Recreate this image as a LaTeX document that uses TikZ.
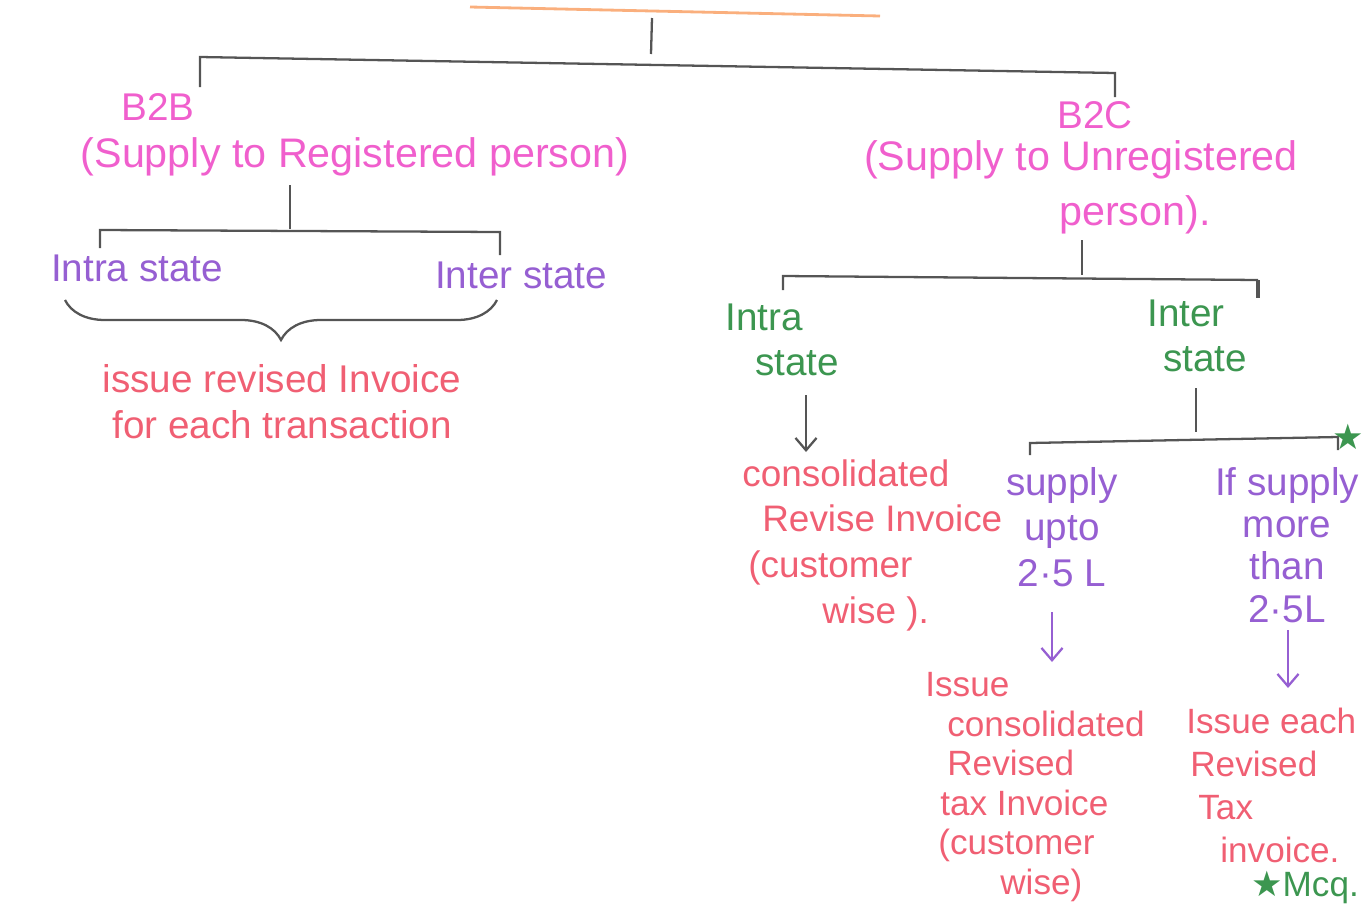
\documentclass[tikz,border=0pt]{standalone}
\usepackage{fontspec}
\setmainfont{Liberation Sans}
\newfontfamily\symfont{DejaVu Sans}
\usetikzlibrary{arrows.meta,decorations.pathreplacing}

\definecolor{penpink}{RGB}{240,95,205}
\definecolor{penpurple}{RGB}{150,95,210}
\definecolor{pengreen}{RGB}{60,150,80}
\definecolor{penred}{RGB}{240,95,115}
\definecolor{penorange}{RGB}{250,175,125}
\definecolor{treegray}{RGB}{85,85,85}

\tikzset{
  hand/.style={font=\fontsize{22}{26}\selectfont, inner sep=0pt},
  tree/.style={draw=treegray, line width=1.3pt},
  pen/.style={-{Straight Barb[length=7pt,width=12pt]}, line width=1.3pt},
}

\begin{document}
\begin{tikzpicture}[x=0.02cm,y=-0.02cm]
\useasboundingbox (0,0) rectangle (1372,913);

% orange rule on top
\draw[penorange, line width=1.6pt] (470,7) -- (880,16);

% first split: B2B / B2C
\coordinate (root) at (652,18);
\coordinate (rootj) at (651,54);
\coordinate (barL) at (200,57);
\coordinate (barR) at (1115,73);
\coordinate (b2bj) at (200,87);
\coordinate (b2cj) at (1115,97);
\draw[tree] (root) -- (rootj);
\draw[tree] (b2bj) -- (barL) -- (barR) -- (b2cj);

\node[hand, text=penpink] (b2b) at (158,107) {B2B};
\node[hand, text=penpink, font=\fontsize{23.5}{26}\selectfont] (b2bdesc) at (355,157) {(Supply to Registered person)};
\node[hand, text=penpink] (b2c) at (1095,115) {B2C};
\node[hand, text=penpink, font=\fontsize{23.5}{26}\selectfont] (b2cdesc) at (1081,160) {(Supply to Unregistered};
\node[hand, text=penpink, font=\fontsize{23.5}{26}\selectfont] (b2cdesc2) at (1135,215) {person).};

% B2B side
\coordinate (b2bstem) at (290,185);
\coordinate (b2bsplit) at (290,229);
\coordinate (b2bL) at (100,230);
\coordinate (b2bR) at (500,232);
\draw[tree] (b2bstem) -- (b2bsplit);
\draw[tree] (100,248) -- (b2bL) -- (b2bR) -- (500,255);

\node[hand, text=penpurple] (b2bintra) at (137,268) {Intra state};
\node[hand, text=penpurple] (b2binter) at (521,275) {Inter state};

% brace joining both
\draw[tree, decorate, decoration={brace, mirror, amplitude=0.8cm}] (65,300) -- (497,300);

\node[hand, text=penred, align=center] (revise) at (282,402) {issue revised Invoice\\for each transaction};

% B2C side
\coordinate (b2cstem) at (1082,240);
\coordinate (b2csplit) at (1082,275);
\coordinate (b2cL) at (783,276);
\coordinate (b2cR) at (1258,280);
\draw[tree] (b2cstem) -- (b2csplit);
\draw[tree] (783,290) -- (b2cL) -- (b2cR);
\draw[treegray, line width=2.6pt] (b2cR) -- (1258,298);

\node[hand, text=pengreen, align=left, anchor=west] (b2cintra) at (725,340) {Intra\\\hspace*{0.6cm}state};
\node[hand, text=pengreen, align=left, anchor=west] (b2cinter) at (1147,336) {Inter\\\hspace*{0.32cm}state};

% intra state -> consolidated
\coordinate (intraA) at (806,395);
\coordinate (intraB) at (806,452);
\draw[tree, pen] (intraA) -- (intraB);

\node[hand, text=penred, align=left, anchor=west, font=\fontsize{21}{26}\selectfont] (consol) at (742,545)
  {consolidated\\\hspace*{0.4cm}Revise Invoice\\\hspace*{0.12cm}(customer\\\hspace*{1.6cm}wise ).};

% inter state split by value
\coordinate (interstem) at (1196,388);
\coordinate (intersplit) at (1196,432);
\coordinate (interL) at (1030,443);
\coordinate (interR) at (1338,437);
\draw[tree] (interstem) -- (intersplit);
\draw[tree] (1030,455) -- (interL) -- (interR) -- (1338,450);
\node[text=pengreen, font=\symfont\fontsize{20}{20}\selectfont, inner sep=0pt] (star) at (1348,437) {★};

\node[hand, text=penpurple, align=center] (upto) at (1062,527) {supply\\upto\\2·5 L};
\node[hand, text=penpurple, align=center, font=\fontsize{22}{24}\selectfont] (more) at (1287,545) {If supply\\more\\than\\2·5L};

\coordinate (uptoA) at (1052,612);
\coordinate (uptoB) at (1052,662);
\coordinate (moreA) at (1288,630);
\coordinate (moreB) at (1288,688);
\draw[penpurple, pen] (uptoA) -- (uptoB);
\draw[penpurple, pen] (moreA) -- (moreB);

\node[hand, text=penred, align=left, anchor=west, font=\fontsize{20}{22.5}\selectfont] (issuecons) at (925,787)
  {Issue\\\hspace*{0.44cm}consolidated\\\hspace*{0.44cm}Revised\\\hspace*{0.3cm}tax Invoice\\\hspace*{0.26cm}(customer\\\hspace*{1.5cm}wise)};
\node[hand, text=penred, align=left, anchor=west, font=\fontsize{20}{24.5}\selectfont] (issueeach) at (1186,785)
  {Issue each\\\hspace*{0.08cm}Revised\\\hspace*{0.24cm}Tax\\\hspace*{0.68cm}invoice.};

\node[hand, text=pengreen, font=\fontsize{20}{20}\selectfont] (mcq) at (1305,887) {{\symfont ★}Mcq.};

\end{tikzpicture}
\end{document}
